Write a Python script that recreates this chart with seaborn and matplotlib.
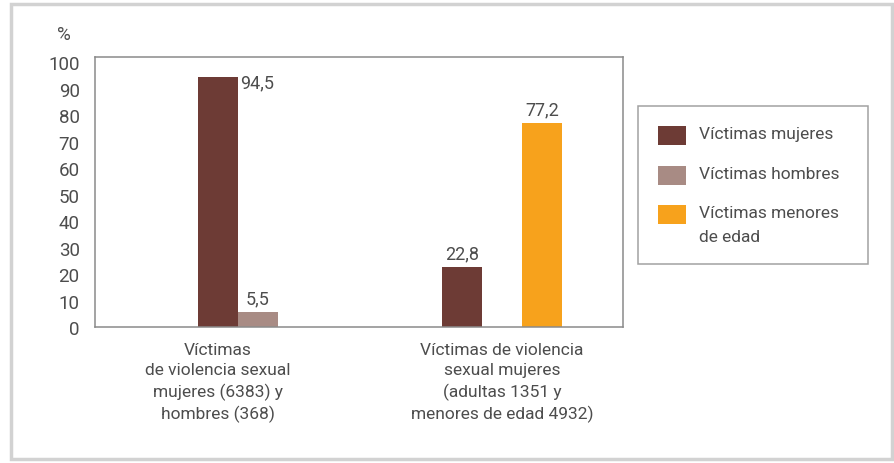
import numpy as np
import pandas as pd
import matplotlib
matplotlib.use("Agg")
import matplotlib.pyplot as plt
from matplotlib.patches import Patch, Rectangle
import seaborn as sns

# --- data -----------------------------------------------------------------
groups = [
    "Víctimas\nde violencia sexual\nmujeres (6383) y\nhombres (368)",
    "Víctimas de violencia\nsexual mujeres\n(adultas 1351 y\nmenores de edad 4932)",
]
series = ["Víctimas mujeres", "Víctimas hombres", "Víctimas menores\nde edad"]
mujeres = [94.5, 22.8]
hombres = [5.5, np.nan]
menores = [np.nan, 77.2]
value_labels = [["94,5", "22,8"], ["5,5", ""], ["", "77,2"]]
yticks = [0, 10, 20, 30, 40, 50, 60, 70, 80, 90, 100]

colors = ["#6d3b35", "#a88b84", "#f7a21c"]
text_color = "#4d4d4d"
frame_color = "#8a8a8a"

rows = []
for s, vals in zip(series, [mujeres, hombres, menores]):
    for g, v in zip(groups, vals):
        rows.append({"grupo": g, "serie": s, "valor": v})
df = pd.DataFrame(rows)

# --- figure ---------------------------------------------------------------
sns.set_theme(style="white")
plt.rcParams["font.family"] = ["Roboto", "DejaVu Sans"]

fig = plt.figure(figsize=(8.95, 4.64), dpi=100)
ax = fig.add_axes([95 / 895, 136 / 464, 528 / 895, 270 / 464])

bar_width = 0.49
sns.barplot(
    data=df, x="grupo", y="valor", hue="serie",
    order=groups, hue_order=series, palette=colors,
    width=bar_width, dodge=True, saturation=1, legend=False,
    linewidth=0, ax=ax,
)

ax.set_ylim(0, 102)
ax.set_xlim(-0.668, 1.496)
ax.set_yticks(yticks)
ax.set_yticklabels([str(t) for t in yticks])
ax.set_xlabel("")
ax.set_ylabel("")

# category labels: first one sits under its women bar, second one centred
slot = bar_width / len(series)
ax.set_xticks([0 - slot, 1])
ax.set_xticklabels(groups, linespacing=1.4)
ax.tick_params(axis="x", length=0, pad=11, labelsize=12.5, colors=text_color)
ax.tick_params(axis="y", length=0, pad=11, labelsize=13.5, colors=text_color)

for side in ["left", "right", "top", "bottom"]:
    ax.spines[side].set_visible(True)
    ax.spines[side].set_color(frame_color)
    ax.spines[side].set_linewidth(1.1)

# value labels
for si, vals in enumerate([mujeres, hombres, menores]):
    for gi, v in enumerate(vals):
        if np.isnan(v):
            continue
        xc = gi + (si - 1) * slot
        lab = value_labels[si][gi]
        if gi == 0 and si == 0:
            ax.text(xc + slot / 2 + 0.01, v + 1.2, lab, ha="left", va="top",
                    fontsize=13, color=text_color)
        else:
            ax.text(xc, v + 1.8, lab, ha="center", va="bottom",
                    fontsize=13, color=text_color)

fig.text(64 / 895, 1 - 35 / 464, "%", ha="center", va="center",
         fontsize=13.5, color=text_color)

# legend
handles = [Patch(facecolor=c, edgecolor="none") for c in colors]
leg = fig.legend(
    handles, series, loc="upper left",
    bbox_to_anchor=(638 / 895, 1 - 107 / 464, 230 / 895, 0.0),
    mode="expand",
    frameon=True, fancybox=False, fontsize=12.5,
    handlelength=1.6, handleheight=1.3, handletextpad=0.75,
    labelspacing=1.2, borderpad=1.15, borderaxespad=0,
    labelcolor=text_color,
)
leg.get_frame().set_edgecolor(frame_color)
leg.get_frame().set_linewidth(1.1)
for t in leg.get_texts():
    t.set_linespacing(1.7)
# keep the swatch next to the first line of a two-line label
for item in leg._legend_handle_box.get_children()[0].get_children():
    item.align = "top"

# outer frame of the graphic
fig.patches.append(Rectangle((11 / 895, 4 / 464), 881 / 895, 455 / 464,
                             transform=fig.transFigure, fill=False,
                             edgecolor="#d2d2d2", linewidth=2.5))

fig.savefig("out.png", dpi=100, facecolor="white")
